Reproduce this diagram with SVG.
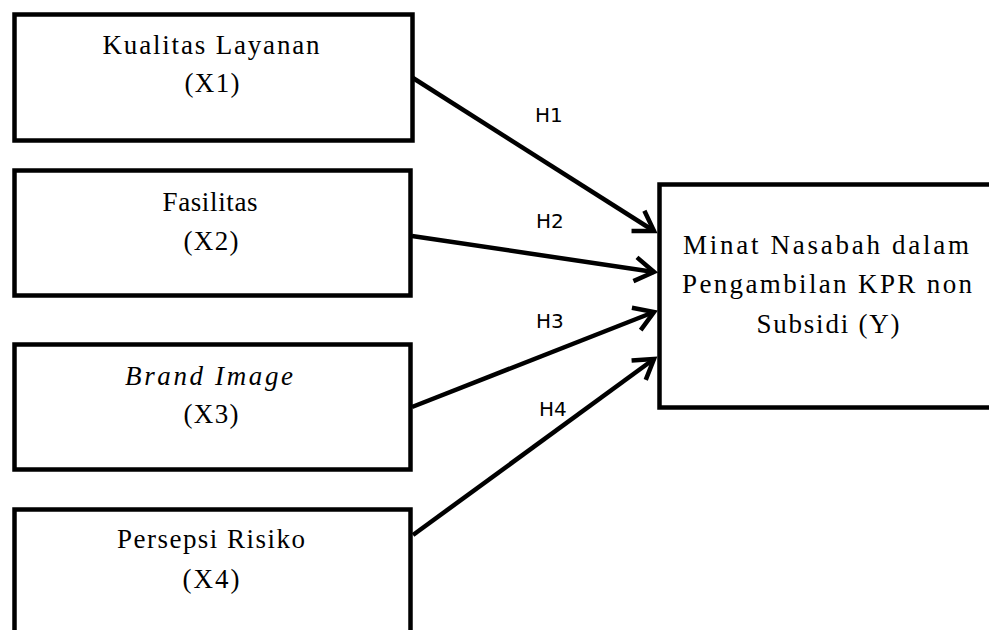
<svg xmlns="http://www.w3.org/2000/svg" width="989" height="630" viewBox="0 0 989 630">
<style>
.box{fill:#fff;stroke:#000;stroke-width:4.5}
.t{font-family:"Liberation Serif","Times New Roman",serif;font-size:27px;fill:#000;text-anchor:middle}
.h{font-family:"DejaVu Sans","Liberation Sans",sans-serif;font-size:20px;fill:#000}
.arr{stroke:#000;stroke-width:4.5;fill:none;marker-end:url(#ah)}
</style>
<defs>
<marker id="ah" markerUnits="userSpaceOnUse" markerWidth="40" markerHeight="40" viewBox="-30 -20 40 40" refX="0" refY="0" orient="auto" overflow="visible">
<path d="M-19,-12 L0,0 L-19,12" fill="none" stroke="#000" stroke-width="4.5" stroke-linejoin="miter"/>
</marker>
</defs>
<rect width="989" height="630" fill="#fff"/>
<g id="connectors">
<line class="arr" x1="413" y1="78" x2="654" y2="231"/>
<line class="arr" x1="412" y1="236" x2="654" y2="272"/>
<line class="arr" x1="412" y1="407" x2="654" y2="312"/>
<line class="arr" x1="413" y1="535" x2="654" y2="359"/>
<text class="h" x="535" y="122">H1</text>
<text class="h" x="536" y="228">H2</text>
<text class="h" x="536" y="328">H3</text>
<text class="h" x="539" y="416">H4</text>
</g>
<g id="x1">
<rect class="box" x="14.5" y="14.5" width="398" height="126"/>
<text class="t" x="211" y="54" textLength="217" lengthAdjust="spacing">Kualitas Layanan</text>
<text class="t" x="212" y="92" textLength="55" lengthAdjust="spacing">(X1)</text>
</g>
<g id="x2">
<rect class="box" x="14.5" y="170.5" width="396" height="125"/>
<text class="t" x="210" y="211" textLength="95" lengthAdjust="spacing">Fasilitas</text>
<text class="t" x="211" y="250" textLength="55" lengthAdjust="spacing">(X2)</text>
</g>
<g id="x3">
<rect class="box" x="14.5" y="344.5" width="396" height="125"/>
<text class="t" x="209" y="385" font-style="italic" textLength="168" lengthAdjust="spacing">Brand Image</text>
<text class="t" x="211" y="423" textLength="55" lengthAdjust="spacing">(X3)</text>
</g>
<g id="x4">
<rect class="box" x="14.5" y="509.5" width="396" height="140"/>
<text class="t" x="211" y="548" textLength="188" lengthAdjust="spacing">Persepsi Risiko</text>
<text class="t" x="211" y="588" textLength="57" lengthAdjust="spacing">(X4)</text>
</g>
<g id="y">
<rect class="box" x="659.5" y="184.5" width="360" height="223"/>
<text class="t" x="826" y="254" textLength="286" lengthAdjust="spacing">Minat Nasabah dalam</text>
<text class="t" x="827" y="293" textLength="290" lengthAdjust="spacing">Pengambilan KPR non</text>
<text class="t" x="828" y="333" textLength="143" lengthAdjust="spacing">Subsidi (Y)</text>
</g>
</svg>
